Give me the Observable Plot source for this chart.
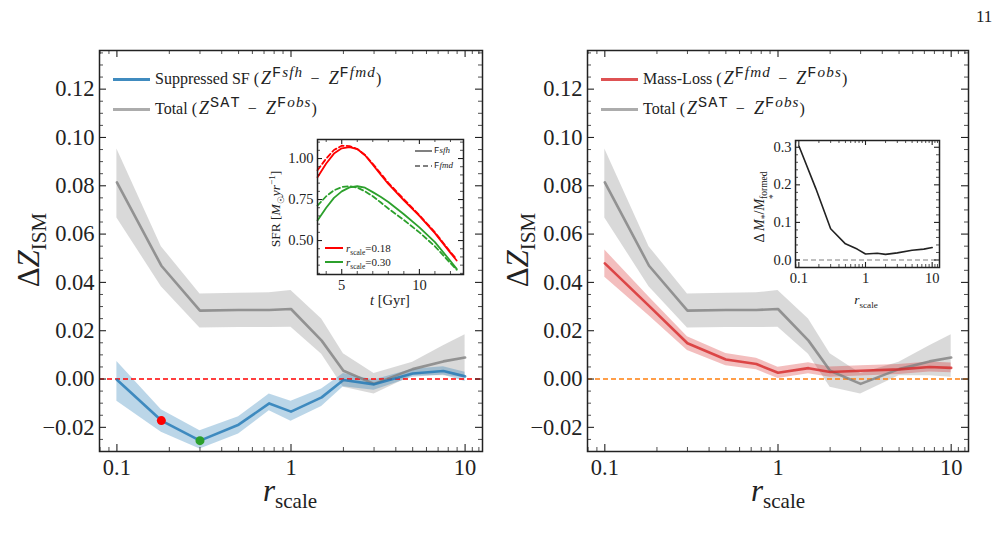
<!DOCTYPE html>
<html>
<head>
<meta charset="utf-8">
<script src="https://cdn.jsdelivr.net/npm/d3@7"></script>
<script src="https://cdn.jsdelivr.net/npm/@observablehq/plot@0.6"></script>
<style>
  body { margin: 0; background: #fff; }
  #fig { position: relative; width: 1004px; height: 536px; overflow: hidden; background: #fff;
         font-family: "Liberation Serif", serif; color: #222; }
  #fig svg { position: absolute; overflow: visible; }
  .abs { position: absolute; white-space: nowrap; line-height: 1; }
  .tt { font-family: "Liberation Mono", monospace; font-style: normal; }
  .row { display: flex; align-items: center; }
  .sw { display: inline-block; flex: none; }
  .rot { transform: translate(-50%, -50%) rotate(-90deg); }
  .ctr { transform: translate(-50%, -50%); }
  sub, sup { font-size: 0.68em; line-height: 0; }
  .lg .z { font-size: 1.12em; margin-left: 2px; }
  .lg sup { font-size: 0.95em; letter-spacing: 1.1px; vertical-align: 0.45em; margin-left: 1px; }
  .lg .m { margin: 0 0.45em; }
</style>
</head>
<body>
<div id="fig"></div>
<script>
// ---- sampled r_scale values ----
const rScale = [0.1, 0.18, 0.3, 0.5, 0.75, 1, 1.5, 2, 3, 5, 7.5, 10];

// Suppressed SF  (Z^Fsfh - Z^Ffmd): median and band
const sfMid = [-0.0003, -0.0172, -0.0255, -0.0189, -0.0101, -0.0135, -0.0076, -0.0004, -0.0022, 0.0023, 0.0033, 0.0011];
const sfLo  = [-0.0092, -0.0220, -0.0290, -0.0228, -0.0131, -0.0175, -0.0114, -0.0032, -0.0046, 0.0007, 0.0017, -0.0010];
const sfHi  = [0.0073, -0.0127, -0.0214, -0.0156, -0.0062, -0.0092, -0.0041, 0.0023, -0.0004, 0.0041, 0.0051, 0.0028];

// Total  (Z^SAT - Z^Fobs)
const totMid = [0.0814, 0.0469, 0.0283, 0.0286, 0.0286, 0.0290, 0.0159, 0.0034, -0.0020, 0.0041, 0.0073, 0.0089];
const totLo  = [0.0667, 0.0382, 0.0211, 0.0213, 0.0213, 0.0214, 0.0103, -0.0034, -0.0062, 0.0014, 0.0014, 0.0007];
const totHi  = [0.0952, 0.0548, 0.0352, 0.0355, 0.0357, 0.0366, 0.0248, 0.0105, 0.0023, 0.0069, 0.0138, 0.0183];

// Mass-Loss  (Z^Ffmd - Z^Fobs)
const mlMid = [0.0479, 0.0303, 0.0148, 0.0081, 0.0062, 0.0026, 0.0045, 0.0029, 0.0034, 0.0040, 0.0050, 0.0046];
const mlLo  = [0.0421, 0.0262, 0.0118, 0.0055, 0.0038, 0.0002, 0.0022, 0.0007, 0.0013, 0.0019, 0.0029, 0.0026];
const mlHi  = [0.0534, 0.0340, 0.0175, 0.0106, 0.0086, 0.0049, 0.0067, 0.0050, 0.0055, 0.0060, 0.0071, 0.0066];

// Inset: star formation histories
const tGyr          = [3.44, 4, 4.5, 5, 5.5, 6, 6.5, 7, 7.5, 8, 9, 10, 11, 12, 12.4];
const sfrRedSfh     = [0.886, 0.970, 1.030, 1.062, 1.070, 1.058, 1.020, 0.962, 0.903, 0.845, 0.745, 0.650, 0.545, 0.425, 0.378];
const sfrRedFmd     = [0.928, 1.000, 1.052, 1.078, 1.076, 1.058, 1.022, 0.968, 0.910, 0.852, 0.752, 0.655, 0.550, 0.430, 0.385];
const sfrGreenSfh   = [0.622, 0.700, 0.760, 0.800, 0.824, 0.831, 0.822, 0.795, 0.767, 0.735, 0.660, 0.580, 0.490, 0.375, 0.327];
const sfrGreenFmd   = [0.713, 0.770, 0.806, 0.826, 0.831, 0.823, 0.800, 0.770, 0.733, 0.695, 0.625, 0.550, 0.465, 0.362, 0.322];

// Inset: fractional stellar mass lost
const dMassFrac = [0.304, 0.190, 0.083, 0.043, 0.029, 0.016, 0.018, 0.015, 0.019, 0.026, 0.029, 0.033];

// ---- tick values and labels ----
const xMajor = [0.1, 1, 10];
const xMinor = [0.08, 0.09, 0.2, 0.3, 0.4, 0.5, 0.6, 0.7, 0.8, 0.9, 2, 3, 4, 5, 6, 7, 8, 9, 11, 12];
const yMajor = [-0.02, 0, 0.02, 0.04, 0.06, 0.08, 0.10, 0.12];
const yMinor = d3.range(-30, 136, 5).filter(v => v % 20 !== 0).map(v => v / 1000);
const tMajor = [5, 10];
const tMinor = [4, 6, 7, 8, 9, 11, 12];
const sfrMajor = [0.50, 0.75, 1.00];
const sfrMinor = d3.range(30, 112, 5).filter(v => v % 25 !== 0).map(v => v / 100);
const mfMajor = [0.0, 0.1, 0.2, 0.3];
const mfMinor = d3.range(-2, 31, 2).filter(v => v % 10 !== 0).map(v => v / 100);
const mfXMinor = [0.09, 0.2, 0.3, 0.4, 0.5, 0.6, 0.7, 0.8, 0.9, 2, 3, 4, 5, 6, 7, 8, 9, 11, 12];

const rows = (mid, lo, hi) => rScale.map((r, i) => ({r, mid: mid[i], lo: lo[i], hi: hi[i]}));
const fig = document.getElementById("fig");
const INK = "#222";

// inward-pointing ticks on all four sides of a frame of size fw x fh
function boxTicks({xMaj, xMin, yMaj, yMin, fw, fh, big, small}) {
  const s1 = {stroke: INK, strokeWidth: 1.1}, s2 = {stroke: INK, strokeWidth: 0.8};
  return [
    Plot.ruleX(xMaj, {...s1, insetTop: fh - big}),
    Plot.ruleX(xMaj, {...s1, insetBottom: fh - big}),
    Plot.ruleX(xMin, {...s2, insetTop: fh - small}),
    Plot.ruleX(xMin, {...s2, insetBottom: fh - small}),
    Plot.ruleY(yMaj, {...s1, insetRight: fw - big}),
    Plot.ruleY(yMaj, {...s1, insetLeft: fw - big}),
    Plot.ruleY(yMin, {...s2, insetRight: fw - small}),
    Plot.ruleY(yMin, {...s2, insetLeft: fw - small}),
    Plot.frame({stroke: INK, strokeWidth: 1.5})
  ];
}

function place(svg, left, top) {
  svg.style.left = left + "px";
  svg.style.top = top + "px";
  fig.appendChild(svg);
}

function html(left, top, cls, style, inner) {
  const d = document.createElement("div");
  d.className = "abs " + cls;
  d.setAttribute("style", `left:${left}px;top:${top}px;${style}`);
  d.innerHTML = inner;
  fig.appendChild(d);
  return d;
}

const baseStyle = {fontFamily: "Liberation Serif", color: INK, background: "transparent", overflow: "visible"};

// ---- main panels ----
function mainPanel({ml, mr, mid, lo, hi, color, zeroColor, extra = []}) {
  const W = 502, H = 536, mt = 50, mb = 85;
  const fw = W - ml - mr, fh = H - mt - mb;
  const tot = rows(totMid, totLo, totHi);
  const sub = rows(mid, lo, hi);
  return Plot.plot({
    width: W, height: H, marginLeft: ml, marginRight: mr, marginTop: mt, marginBottom: mb,
    x: {type: "log", domain: [Math.pow(10, -1.1), Math.pow(10, 1.1)]},
    y: {domain: [-0.030, 0.136]},
    style: baseStyle,
    marks: [
      Plot.areaY(tot, {x: "r", y1: "lo", y2: "hi", fill: "gray", fillOpacity: 0.3}),
      Plot.areaY(sub, {x: "r", y1: "lo", y2: "hi", fill: color, fillOpacity: 0.3}),
      Plot.ruleY([0], {stroke: zeroColor, strokeWidth: 1.4, strokeDasharray: "5,3"}),
      Plot.lineY(tot, {x: "r", y: "mid", stroke: "gray", strokeOpacity: 0.8, strokeWidth: 2.6}),
      Plot.lineY(sub, {x: "r", y: "mid", stroke: color, strokeOpacity: 0.8, strokeWidth: 2.6}),
      ...extra,
      ...boxTicks({xMaj: xMajor, xMin: xMinor, yMaj: yMajor, yMin: yMinor, fw, fh, big: 7, small: 4}),
      Plot.axisX({ticks: xMajor, tickFormat: d => String(d), tickSize: 0, tickPadding: 8, fontSize: 22.5, label: null}),
      Plot.axisY({ticks: yMajor, tickFormat: d3.format(".2f"), tickSize: 0, tickPadding: 5, fontSize: 22.5, label: null})
    ]
  });
}

const suppressedDots = [
  Plot.dot([{r: rScale[1], v: sfMid[1]}], {x: "r", y: "v", r: 4.5, fill: "red"}),
  Plot.dot([{r: rScale[2], v: sfMid[2]}], {x: "r", y: "v", r: 4.5, fill: "#2ca02c"})
];

place(mainPanel({ml: 99, mr: 20, mid: sfMid, lo: sfLo, hi: sfHi, color: "#1f77b4", zeroColor: "red", extra: suppressedDots}), 0, 0);
place(mainPanel({ml: 85, mr: 36, mid: mlMid, lo: mlLo, hi: mlHi, color: "#d62728", zeroColor: "#ff7f0e"}), 502, 0);

// ---- inset: SFR(t) ----
{
  const ml = 62, mr = 5, mt = 5, mb = 26, fw = 146, fh = 135;
  const sfr = tGyr.map((t, i) => ({t, rs: sfrRedSfh[i], rf: sfrRedFmd[i], gs: sfrGreenSfh[i], gf: sfrGreenFmd[i]}));
  const svg = Plot.plot({
    width: ml + fw + mr, height: mt + fh + mb, marginLeft: ml, marginRight: mr, marginTop: mt, marginBottom: mb,
    x: {domain: [3.44, 12.84]},
    y: {domain: [0.293, 1.116]},
    style: baseStyle,
    marks: [
      Plot.frame({fill: "white"}),
      Plot.lineY(sfr, {x: "t", y: "rs", stroke: "red", strokeWidth: 1.8}),
      Plot.lineY(sfr, {x: "t", y: "rf", stroke: "red", strokeWidth: 1.8, strokeDasharray: "5,3"}),
      Plot.lineY(sfr, {x: "t", y: "gs", stroke: "#2ca02c", strokeWidth: 1.8}),
      Plot.lineY(sfr, {x: "t", y: "gf", stroke: "#2ca02c", strokeWidth: 1.8, strokeDasharray: "5,3"}),
      ...boxTicks({xMaj: tMajor, xMin: tMinor, yMaj: sfrMajor, yMin: sfrMinor, fw, fh, big: 5, small: 3}),
      Plot.axisX({ticks: tMajor, tickSize: 0, tickPadding: 5, fontSize: 14.5, label: null}),
      Plot.axisY({ticks: sfrMajor, tickFormat: d3.format(".2f"), tickSize: 0, tickPadding: 4, fontSize: 14.5, label: null})
    ]
  });
  place(svg, 317 - ml, 139 - mt);
}

// ---- inset: fractional mass lost ----
{
  const ml = 50, mr = 5, mt = 5, mb = 24, fw = 144, fh = 127;
  const svg = Plot.plot({
    width: ml + fw + mr, height: mt + fh + mb, marginLeft: ml, marginRight: mr, marginTop: mt, marginBottom: mb,
    x: {type: "log", domain: [Math.pow(10, -1.05), Math.pow(10, 1.11)]},
    y: {domain: [-0.02, 0.318]},
    style: baseStyle,
    marks: [
      Plot.frame({fill: "white"}),
      Plot.ruleY([0], {stroke: "gray", strokeWidth: 1.1, strokeDasharray: "5,3"}),
      Plot.lineY(rScale.map((r, i) => ({r, v: dMassFrac[i]})), {x: "r", y: "v", stroke: "#222", strokeWidth: 1.6}),
      ...boxTicks({xMaj: xMajor, xMin: mfXMinor, yMaj: mfMajor, yMin: mfMinor, fw, fh, big: 5, small: 3}),
      Plot.axisX({ticks: xMajor, tickFormat: d => String(d), tickSize: 0, tickPadding: 5, fontSize: 14.5, label: null}),
      Plot.axisY({ticks: mfMajor, tickFormat: d3.format(".1f"), tickSize: 0, tickPadding: 4, fontSize: 14.5, label: null})
    ]
  });
  place(svg, 795 - ml, 140 - mt);
}

// ---- text: axis labels, legends, page number ----
html(976, 8, "", "font-size:17px", "11");

const zLabel = "&Delta;<i>Z</i><sub>ISM</sub>";
const rLabel = "<i>r</i><sub>scale</sub>";
html(28, 250, "rot", "font-size:31px", zLabel);
html(517, 250, "rot", "font-size:31px", zLabel);
html(290, 490, "ctr", "font-size:31px", rLabel);
html(778, 490, "ctr", "font-size:31px", rLabel);

function legendRow(left, top, color, inner) {
  html(left, top, "row lg", "font-size:16px;height:24px",
    `<span class="sw" style="width:37px;height:3px;background:${color};margin-right:5px"></span><span>${inner}</span>`);
}
const zSup = (a, b) => `<i class="z">Z</i><sup><span class="tt">${a}</span><i>${b}</i></sup>`;
const minus = `<span class="m">&minus;</span>`;
legendRow(113, 67, "rgba(31,119,180,0.85)", `Suppressed SF (${zSup("F", "sfh")}${minus}${zSup("F", "fmd")})`);
legendRow(113, 97, "rgba(128,128,128,0.65)", `Total (${zSup("SAT", "")}${minus}${zSup("F", "obs")})`);
legendRow(601, 67, "rgba(214,39,40,0.8)", `Mass-Loss (${zSup("F", "fmd")}${minus}${zSup("F", "obs")})`);
legendRow(601, 97, "rgba(128,128,128,0.65)", `Total (${zSup("SAT", "")}${minus}${zSup("F", "obs")})`);

// SFR inset labels and legends
html(276, 209, "rot", "font-size:13.5px", "SFR [<i>M</i><sub>&#9737;</sub><i>yr</i><sup>&minus;1</sup>]");
html(390, 300, "ctr", "font-size:14.5px", "<i>t</i> [Gyr]");
html(415, 145, "row", "font-size:9px;height:12px",
  `<span class="sw" style="width:17px;height:2px;background:gray;margin-right:2px"></span><span><span class="tt">F</span><i>sfh</i></span>`);
html(415, 160, "row", "font-size:9px;height:12px",
  `<span class="sw" style="width:17px;height:2px;background:repeating-linear-gradient(90deg,gray 0 5px,transparent 5px 8px);margin-right:2px"></span><span><span class="tt">F</span><i>fmd</i></span>`);
html(325, 241, "row", "font-size:11px;height:14px",
  `<span class="sw" style="width:18px;height:2px;background:red;margin-right:3px"></span><span><i>r</i><sub>scale</sub>=0.18</span>`);
html(325, 255, "row", "font-size:11px;height:14px",
  `<span class="sw" style="width:18px;height:2px;background:#2ca02c;margin-right:3px"></span><span><i>r</i><sub>scale</sub>=0.30</span>`);

// mass-lost inset labels
html(766, 207, "rot", "font-size:14px",
  `&Delta; <i>M</i><sub>*</sub>/<i>M</i><span style="display:inline-flex;flex-direction:column;font-size:0.68em;line-height:1;vertical-align:-0.3em"><span>formed</span><span>*</span></span>`);
html(866, 300, "ctr", "font-size:13.5px", rLabel);
</script>
</body>
</html>
